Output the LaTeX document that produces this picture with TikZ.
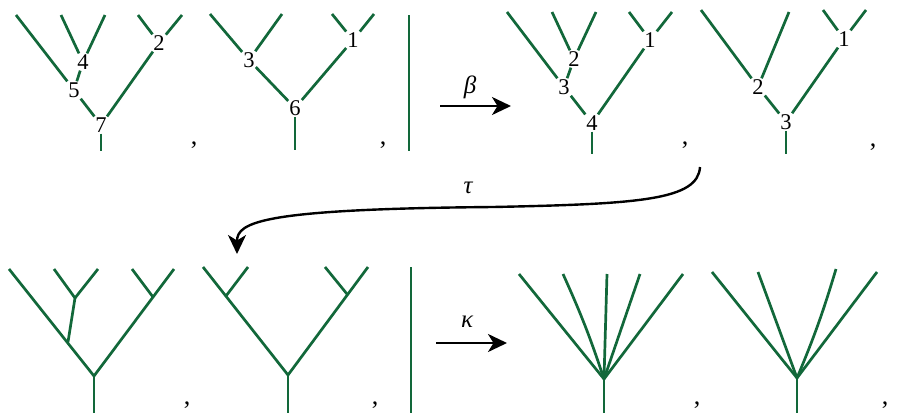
\documentclass[tikz,border=0pt]{standalone}
\usepackage{fontspec}
\setmainfont{Liberation Serif}
\usetikzlibrary{arrows.meta}
\definecolor{tg}{RGB}{18,104,58}
\begin{document}
\begin{tikzpicture}[x=1pt,y=-1pt,
  br/.style={draw=tg, line width=2.7pt},
  lab/.style={inner sep=1.0pt, font=\fontsize{22.5}{22.5}\selectfont},
  cma/.style={inner sep=0pt, font=\fontsize{26}{26}\selectfont},
  gl/.style={inner sep=0pt, font=\fontsize{25}{25}\selectfont\itshape},
  arr/.style={line width=2.4pt, -{Stealth[length=19pt,width=18pt,inset=5.5pt]}},
]
\useasboundingbox (0,0) rectangle (903,413);

% ---------- Tree 1 ----------
\coordinate (t1a) at (16,15);
\coordinate (t1b) at (61,15);
\coordinate (t1c) at (105,15);
\coordinate (t1d) at (138,15);
\coordinate (t1e) at (182,15);
\coordinate (t1s) at (101,151);
\node[lab] (t1n4) at (83,62) {4};
\node[lab] (t1n5) at (74,90) {5};
\node[lab] (t1n7) at (101,125) {7};
\node[lab] (t1n2) at (159,43) {2};
\draw[br] (t1a) -- (t1n5);
\draw[br] (t1b) -- (t1n4);
\draw[br] (t1c) -- (t1n4);
\draw[br] (t1n4) -- (t1n5);
\draw[br] (t1n5) -- (t1n7);
\draw[br] (t1d) -- (t1n2);
\draw[br] (t1e) -- (t1n2);
\draw[br] (t1n2) -- (t1n7);
\draw[br] (t1n7) -- (t1s);
\node[cma] (c1) at (194,145) {,};

% ---------- Tree 2 ----------
\coordinate (t2a) at (210,14);
\coordinate (t2b) at (282,14);
\coordinate (t2c) at (332,14);
\coordinate (t2d) at (374,14);
\coordinate (t2s) at (295,150);
\node[lab] (t2n3) at (249,60) {3};
\node[lab] (t2n1) at (353,40) {1};
\node[lab] (t2n6) at (295,108) {6};
\draw[br] (t2a) -- (t2n3);
\draw[br] (t2b) -- (t2n3);
\draw[br] (t2c) -- (t2n1);
\draw[br] (t2d) -- (t2n1);
\draw[br] (t2n3) -- (t2n6);
\draw[br] (t2n1) -- (t2n6);
\draw[br] (t2n6) -- (t2s);
\node[cma] (c2) at (383,145) {,};

% bar
\coordinate (bar1a) at (409,15);
\coordinate (bar1b) at (409,151);
\draw[br] (bar1a) -- (bar1b);

% beta arrow
\coordinate (be1) at (440,106);
\coordinate (be2) at (511,106);
\draw[arr] (be1) -- (be2);
\node[gl] (beta) at (470,87) {β};

% ---------- Tree 3 ----------
\coordinate (t3a) at (507,12);
\coordinate (t3b) at (552,12);
\coordinate (t3c) at (596,12);
\coordinate (t3d) at (629,12);
\coordinate (t3e) at (672,12);
\coordinate (t3s) at (592,154);
\node[lab] (t3n2) at (574,59) {2};
\node[lab] (t3n3) at (564,87) {3};
\node[lab] (t3n4) at (592,123) {4};
\node[lab] (t3n1) at (650,40) {1};
\draw[br] (t3a) -- (t3n3);
\draw[br] (t3b) -- (t3n2);
\draw[br] (t3c) -- (t3n2);
\draw[br] (t3n2) -- (t3n3);
\draw[br] (t3n3) -- (t3n4);
\draw[br] (t3d) -- (t3n1);
\draw[br] (t3e) -- (t3n1);
\draw[br] (t3n1) -- (t3n4);
\draw[br] (t3n4) -- (t3s);
\node[cma] (c3) at (685,145) {,};

% ---------- Tree 4 ----------
\coordinate (t4a) at (701,10);
\coordinate (t4b) at (789,12);
\coordinate (t4c) at (823,10);
\coordinate (t4d) at (866,10);
\coordinate (t4s) at (786,154);
\node[lab] (t4n2) at (758,87) {2};
\node[lab] (t4n1) at (844,39) {1};
\node[lab] (t4n3) at (786,122) {3};
\draw[br] (t4a) -- (t4n2);
\draw[br] (t4b) -- (t4n2);
\draw[br] (t4c) -- (t4n1);
\draw[br] (t4d) -- (t4n1);
\draw[br] (t4n2) -- (t4n3);
\draw[br] (t4n1) -- (t4n3);
\draw[br] (t4n3) -- (t4s);
\node[cma] (c4) at (873,147) {,};

% tau arrow
\coordinate (ta1) at (700,167);
\coordinate (ta2) at (237,254);
\draw[arr] (ta1) .. controls (698,200) and (640,204) .. (493,207)
  .. controls (262,209) and (237,222) .. (ta2);
\node[gl] (tau) at (468,188) {τ};

% ---------- Tree 5 ----------
\coordinate (t5a) at (9,269);
\coordinate (t5b) at (54,269);
\coordinate (t5c) at (98,269);
\coordinate (t5d) at (132,269);
\coordinate (t5e) at (174,269);
\coordinate (t5A) at (75,298);
\coordinate (t5J) at (68,342);
\coordinate (t5B) at (153,297);
\coordinate (t5R) at (94,376);
\coordinate (t5s) at (94,413);
\draw[br] (t5a) -- (t5R);
\draw[br] (t5b) -- (t5A);
\draw[br] (t5c) -- (t5A);
\draw[br] (t5A) -- (t5J);
\draw[br] (t5d) -- (t5B);
\draw[br] (t5e) -- (t5R);
\draw[br] (t5R) -- (t5s);
\node[cma] (c5) at (187,405) {,};

% ---------- Tree 6 ----------
\coordinate (t6a) at (203,267);
\coordinate (t6b) at (248,267);
\coordinate (t6c) at (325,267);
\coordinate (t6d) at (368,267);
\coordinate (t6L) at (226,296);
\coordinate (t6M) at (347,294);
\coordinate (t6R) at (288,375);
\coordinate (t6s) at (288,413);
\draw[br] (t6a) -- (t6R);
\draw[br] (t6b) -- (t6L);
\draw[br] (t6c) -- (t6M);
\draw[br] (t6d) -- (t6R);
\draw[br] (t6R) -- (t6s);
\node[cma] (c6) at (375,405) {,};

% bar
\coordinate (bar2a) at (411,267);
\coordinate (bar2b) at (411,413);
\draw[br] (bar2a) -- (bar2b);

% kappa arrow
\coordinate (ka1) at (436,343);
\coordinate (ka2) at (507,343);
\draw[arr] (ka1) -- (ka2);
\node[gl] (kappa) at (467,322) {κ};

% ---------- Tree 7 ----------
\coordinate (t7a) at (519,274);
\coordinate (t7b) at (563,274);
\coordinate (t7c) at (607,274);
\coordinate (t7d) at (640,274);
\coordinate (t7e) at (683,274);
\coordinate (t7R) at (604,379);
\coordinate (t7s) at (604,413);
\draw[br] (t7R) -- (t7a);
\draw[br] (t7R) to[bend right=3] (t7b);
\draw[br] (t7R) -- (t7c);
\draw[br] (t7R) -- (t7d);
\draw[br] (t7R) -- (t7e);
\draw[br] (t7R) -- (t7s);
\node[cma] (c7) at (697,405) {,};

% ---------- Tree 8 ----------
\coordinate (t8a) at (712,272);
\coordinate (t8b) at (758,272);
\coordinate (t8c) at (836,269);
\coordinate (t8d) at (877,272);
\coordinate (t8R) at (797,378);
\coordinate (t8s) at (797,413);
\draw[br] (t8R) -- (t8a);
\draw[br] (t8R) -- (t8b);
\draw[br] (t8R) to[bend right=3] (t8c);
\draw[br] (t8R) -- (t8d);
\draw[br] (t8R) -- (t8s);
\node[cma] (c8) at (885,405) {,};
\end{tikzpicture}
\end{document}
